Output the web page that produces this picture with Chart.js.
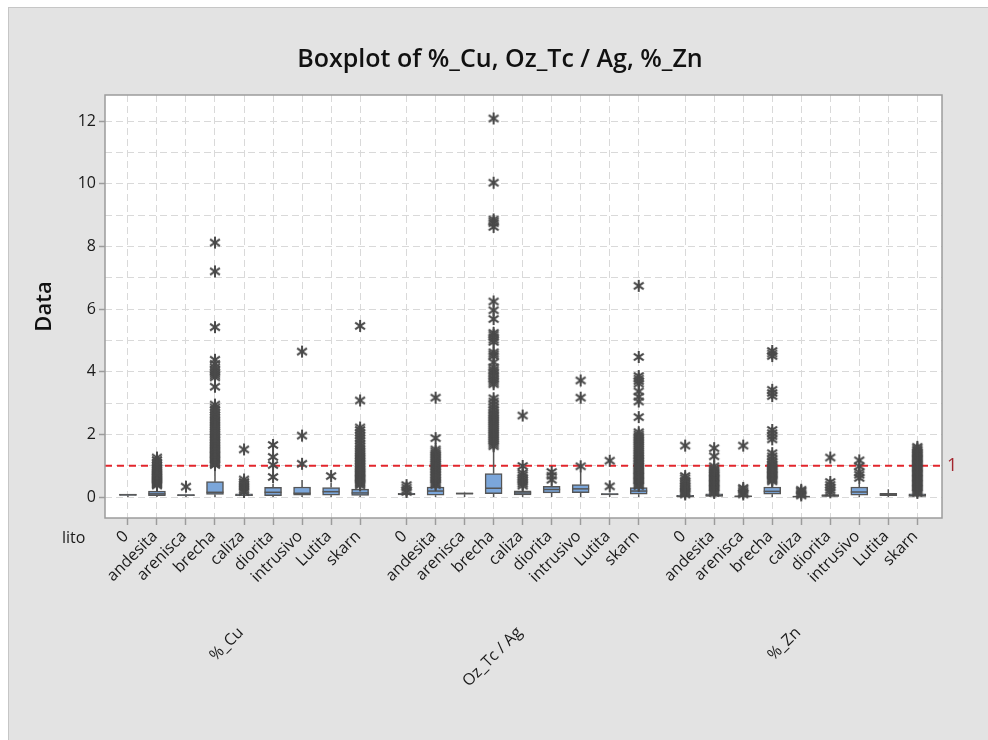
<!DOCTYPE html>
<html>
<head>
<meta charset="utf-8">
<script src="https://cdn.jsdelivr.net/npm/chart.js@4.4.1/dist/chart.umd.min.js"></script>
<style>
  html, body { margin: 0; padding: 0; background: #fff; }
  #panel { position: absolute; left: 8px; top: 7px; width: 980px; height: 733px; background: #e3e3e3;
           border-left: 1px solid #c6c6c6; border-top: 1px solid #c6c6c6; }
  #box { position: absolute; left: 0; top: 0; }
</style>
</head>
<body>
<div id="panel"></div>
<canvas id="box" width="988" height="740"></canvas>
<script>
var lito = ['0', 'andesita', 'arenisca', 'brecha', 'caliza', 'diorita', 'intrusivo', 'Lutita', 'skarn'];
var groups = ['%_Cu', 'Oz_Tc / Ag', '%_Zn'];
var yTicks = [0, 1, 2, 3, 4, 5, 6, 7, 8, 9, 10, 11, 12];
var refLine = 1;

// box stats, one row per group, in lito order
var q1 = [
  0.05, 0.04, 0.04, 0.08, 0.04, 0.04, 0.06, 0.06, 0.05,
  0.07, 0.06, 0.09, 0.11, 0.07, 0.13, 0.14, 0.07, 0.09,
  0.01, 0.02, 0.01, 0.09, 0.00, 0.02, 0.06, 0.04, 0.02
];
var median = [
  0.07, 0.10, 0.06, 0.15, 0.06, 0.15, 0.12, 0.17, 0.13,
  0.09, 0.19, 0.11, 0.28, 0.13, 0.24, 0.26, 0.09, 0.19,
  0.02, 0.05, 0.02, 0.18, 0.01, 0.04, 0.16, 0.08, 0.05
];
var q3 = [
  0.09, 0.19, 0.08, 0.49, 0.10, 0.31, 0.32, 0.30, 0.25,
  0.12, 0.32, 0.13, 0.75, 0.20, 0.34, 0.40, 0.11, 0.30,
  0.05, 0.10, 0.04, 0.32, 0.03, 0.08, 0.32, 0.12, 0.10
];
var whiskerLow = [
  0.00, 0.00, 0.00, 0.00, 0.00, 0.00, 0.00, 0.00, 0.00,
  0.00, 0.00, 0.00, 0.00, 0.00, 0.00, 0.00, 0.00, 0.00,
  0.00, 0.00, 0.00, 0.00, 0.00, 0.00, 0.00, 0.00, 0.00
];
var whiskerHigh = [
  0.09, 0.35, 0.08, 1.00, 0.12, 0.42, 0.54, 0.46, 0.35,
  0.12, 0.36, 0.14, 1.58, 0.30, 0.50, 0.80, 0.12, 0.33,
  0.06, 0.10, 0.05, 0.46, 0.04, 0.12, 0.42, 0.25, 0.10
];

var cuOutliers = [
  [],
  [0.37, 0.40, 0.43, 0.46, 0.49, 0.52, 0.55, 0.58, 0.61, 0.64, 0.67, 0.70, 0.73, 0.76, 0.80, 0.84, 0.88, 0.92, 0.97, 1.03, 1.10, 1.18, 1.26],
  [0.33],
  [1.02, 1.06, 1.10, 1.14, 1.18, 1.22, 1.26, 1.30, 1.34, 1.38, 1.42, 1.46, 1.50, 1.54, 1.58, 1.62, 1.67, 1.72, 1.77, 1.82, 1.87, 1.92, 1.97, 2.02, 2.07, 2.12, 2.18, 2.24, 2.30, 2.36, 2.42, 2.48, 2.55, 2.62, 2.70, 2.78, 2.86, 2.95, 3.52, 3.82, 3.88, 3.94, 4.00, 4.06, 4.14, 4.25, 4.38, 5.42, 7.20, 8.12],
  [0.16, 0.22, 0.28, 0.35, 0.42, 0.48, 0.56, 1.52],
  [0.64, 1.02, 1.28, 1.66],
  [1.06, 1.96, 4.64],
  [0.67],
  [0.37, 0.41, 0.45, 0.49, 0.53, 0.57, 0.61, 0.65, 0.69, 0.73, 0.77, 0.81, 0.85, 0.90, 0.95, 1.00, 1.05, 1.10, 1.15, 1.20, 1.25, 1.30, 1.36, 1.42, 1.48, 1.55, 1.62, 1.70, 1.80, 1.88, 1.96, 2.05, 2.14, 2.22, 3.08, 5.46]
];
var agOutliers = [
  [0.16, 0.22, 0.30, 0.38],
  [0.38, 0.42, 0.46, 0.50, 0.55, 0.60, 0.65, 0.70, 0.75, 0.80, 0.85, 0.90, 0.95, 1.00, 1.05, 1.10, 1.16, 1.22, 1.28, 1.34, 1.40, 1.46, 1.52, 1.88, 3.17],
  [],
  [1.62, 1.68, 1.74, 1.80, 1.86, 1.92, 1.98, 2.04, 2.10, 2.16, 2.22, 2.28, 2.34, 2.40, 2.46, 2.52, 2.58, 2.64, 2.70, 2.78, 2.86, 2.95, 3.05, 3.15, 3.60, 3.66, 3.72, 3.78, 3.86, 3.94, 4.00, 4.06, 4.14, 4.30, 4.50, 4.56, 4.62, 4.95, 5.02, 5.10, 5.18, 5.24, 5.68, 5.96, 6.24, 8.62, 8.74, 8.80, 8.86, 10.03, 12.08],
  [0.36, 0.42, 0.48, 0.55, 0.62, 0.70, 0.77, 0.99, 2.60],
  [0.55, 0.68, 0.80],
  [0.98, 3.17, 3.72],
  [0.34, 1.16],
  [0.35, 0.39, 0.43, 0.47, 0.51, 0.55, 0.59, 0.63, 0.67, 0.71, 0.75, 0.79, 0.83, 0.87, 0.91, 0.95, 1.00, 1.05, 1.10, 1.15, 1.20, 1.25, 1.30, 1.35, 1.40, 1.46, 1.52, 1.58, 1.64, 1.70, 1.76, 1.82, 1.88, 1.94, 2.00, 2.07, 2.55, 3.05, 3.20, 3.37, 3.62, 3.70, 3.78, 3.86, 4.47, 6.74]
];
var znOutliers = [
  [0.08, 0.12, 0.16, 0.20, 0.25, 0.30, 0.35, 0.40, 0.46, 0.52, 0.60, 0.67, 1.64],
  [0.13, 0.17, 0.21, 0.25, 0.29, 0.33, 0.37, 0.41, 0.45, 0.49, 0.53, 0.57, 0.61, 0.65, 0.69, 0.73, 0.77, 0.81, 0.86, 0.91, 0.98, 1.30, 1.56],
  [0.08, 0.13, 0.18, 0.24, 0.29, 1.64],
  [0.50, 0.54, 0.58, 0.62, 0.66, 0.70, 0.74, 0.78, 0.82, 0.86, 0.90, 0.95, 1.00, 1.05, 1.12, 1.20, 1.30, 1.40, 1.84, 1.94, 2.04, 2.14, 3.22, 3.32, 3.42, 4.50, 4.58, 4.66],
  [0.05, 0.09, 0.14, 0.19, 0.23],
  [0.15, 0.22, 0.30, 0.39, 0.48, 1.26],
  [0.61, 0.71, 0.79, 0.98, 1.17],
  [],
  [0.13, 0.17, 0.21, 0.25, 0.29, 0.33, 0.37, 0.41, 0.45, 0.49, 0.53, 0.57, 0.61, 0.65, 0.69, 0.73, 0.77, 0.81, 0.85, 0.89, 0.93, 0.97, 1.01, 1.05, 1.09, 1.13, 1.17, 1.21, 1.25, 1.29, 1.33, 1.37, 1.41, 1.45, 1.50, 1.55, 1.60]
];

// x position of each box: groups are separated by a little extra space
var groupGap = 0.6;
function slot(g, i) { return g * (lito.length + groupGap) + i; }

var slots = [];
groups.forEach(function(name, g) {
  lito.forEach(function(l, i) { slots.push(slot(g, i)); });
});

var boxData = slots.map(function(p, k) { return { x: p, y: [q1[k], q3[k]] }; });

var outlierPoints = [];
[cuOutliers, agOutliers, znOutliers].forEach(function(set, g) {
  set.forEach(function(vals, i) {
    vals.forEach(function(v) { outlierPoints.push({ x: slot(g, i), y: v }); });
  });
});

// minitab style asterisk
function makeStar() {
  var c = document.createElement('canvas');
  c.width = 14; c.height = 14;
  var s = c.getContext('2d');
  s.strokeStyle = '#4a4a4a';
  s.lineWidth = 2;
  s.lineCap = 'butt';
  [90, 35, 145].forEach(function(deg) {
    var r = deg * Math.PI / 180, dx = Math.cos(r) * 6, dy = Math.sin(r) * 6;
    s.beginPath();
    s.moveTo(7 - dx, 7 - dy);
    s.lineTo(7 + dx, 7 + dy);
    s.stroke();
  });
  return c;
}

var boxParts = {
  id: 'boxParts',
  beforeDraw: function(chart) {
    var a = chart.chartArea, ctx = chart.ctx;
    ctx.save();
    ctx.fillStyle = '#ffffff';
    ctx.fillRect(a.left, a.top, a.right - a.left, a.bottom - a.top);
    ctx.restore();
  },
  beforeDatasetsDraw: function(chart) {
    var x = chart.scales.x, y = chart.scales.y, a = chart.chartArea, ctx = chart.ctx;
    ctx.save();
    ctx.strokeStyle = '#e2262c';
    ctx.lineWidth = 2;
    ctx.setLineDash([7, 5]);
    var ry = y.getPixelForValue(refLine);
    ctx.beginPath();
    ctx.moveTo(a.left, ry);
    ctx.lineTo(a.right, ry);
    ctx.stroke();
    ctx.restore();

    ctx.save();
    ctx.strokeStyle = '#555555';
    ctx.lineWidth = 1.5;
    slots.forEach(function(p, k) {
      var px = x.getPixelForValue(p);
      ctx.beginPath();
      ctx.moveTo(px, y.getPixelForValue(whiskerLow[k]));
      ctx.lineTo(px, y.getPixelForValue(q1[k]));
      ctx.moveTo(px, y.getPixelForValue(q3[k]));
      ctx.lineTo(px, y.getPixelForValue(whiskerHigh[k]));
      ctx.stroke();
    });
    ctx.restore();
  },
  afterDatasetDraw: function(chart, args) {
    if (args.meta.type !== 'bar') return;
    var y = chart.scales.y, ctx = chart.ctx;
    ctx.save();
    ctx.strokeStyle = '#555555';
    ctx.lineWidth = 1.5;
    args.meta.data.forEach(function(bar, k) {
      var my = y.getPixelForValue(median[k]);
      ctx.beginPath();
      ctx.moveTo(bar.x - bar.width / 2, my);
      ctx.lineTo(bar.x + bar.width / 2, my);
      ctx.stroke();
    });
    ctx.restore();
  },
  afterDraw: function(chart) {
    var x = chart.scales.x, y = chart.scales.y, a = chart.chartArea, ctx = chart.ctx;
    ctx.save();
    ctx.strokeStyle = '#9c9c9c';
    ctx.lineWidth = 1.5;
    ctx.strokeRect(a.left, a.top, a.right - a.left, a.bottom - a.top);

    // reference value label
    ctx.fillStyle = '#a3272f';
    ctx.font = '18px "Open Sans"';
    ctx.textAlign = 'left';
    ctx.textBaseline = 'middle';
    ctx.fillText(String(refLine), a.right + 5, y.getPixelForValue(refLine));

    ctx.fillStyle = '#111111';
    ctx.font = '600 25px "Open Sans"';
    ctx.textAlign = 'center';
    ctx.textBaseline = 'alphabetic';
    ctx.fillText('Boxplot of %_Cu, Oz_Tc / Ag, %_Zn', 500, 67);

    ctx.fillStyle = '#1a1a1a';
    ctx.font = '16px "Open Sans"';
    ctx.textAlign = 'left';
    ctx.textBaseline = 'middle';
    ctx.fillText('lito', 62, 538);

    // group names under the lito labels
    ctx.textAlign = 'right';
    groups.forEach(function(name, g) {
      var cx = x.getPixelForValue((slot(g, 0) + slot(g, lito.length - 1)) / 2);
      ctx.save();
      ctx.translate(cx - 3, 630);
      ctx.rotate(-Math.PI / 4);
      ctx.fillText(name, 0, 0);
      ctx.restore();
    });
    ctx.restore();
  }
};

new Chart(document.getElementById('box'), {
  type: 'scatter',
  data: {
    datasets: [
      {
        type: 'scatter',
        data: outlierPoints,
        pointStyle: makeStar(),
        pointRadius: 6,
        showLine: false
      },
      {
        type: 'bar',
        data: boxData,
        backgroundColor: '#7ba6da',
        borderColor: '#555555',
        borderWidth: 1.5,
        borderSkipped: false,
        barThickness: 17
      }
    ]
  },
  options: {
    responsive: false,
    animation: false,
    layout: { padding: { left: 0, top: 95, right: 46, bottom: 0 } },
    plugins: { legend: { display: false }, tooltip: { enabled: false } },
    scales: {
      x: {
        type: 'linear',
        offset: false,
        min: -0.79,
        max: 28.05,
        afterBuildTicks: function(scale) {
          scale.ticks = slots.map(function(p) { return { value: p }; });
        },
        afterFit: function(scale) { scale.height = 222; },
        ticks: {
          autoSkip: false,
          minRotation: 45,
          maxRotation: 45,
          padding: 2,
          labelOffset: -2,
          color: '#1a1a1a',
          font: { family: 'Open Sans', size: 16 },
          callback: function(value, index) { return lito[index % lito.length]; }
        },
        grid: { offset: false, color: '#d9d9d9', lineWidth: 1, tickLength: 7, tickColor: '#9c9c9c', tickWidth: 1.5 },
        border: { display: false, dash: [7, 4] }
      },
      y: {
        type: 'linear',
        min: -0.67,
        max: 12.83,
        afterBuildTicks: function(scale) {
          scale.ticks = yTicks.map(function(v) { return { value: v }; });
        },
        afterFit: function(scale) { scale.width = 105; },
        title: {
          display: true,
          text: 'Data',
          color: '#111111',
          font: { family: 'Open Sans', size: 22, weight: '600' },
          padding: { top: 32, bottom: 0 }
        },
        ticks: {
          padding: 3,
          color: '#1a1a1a',
          font: { family: 'Open Sans', size: 16 },
          callback: function(value) { return value % 2 === 0 ? value : ''; }
        },
        grid: {
          color: '#d9d9d9',
          lineWidth: 1,
          tickLength: 6,
          tickWidth: 1.5,
          tickColor: function(ctx) { return ctx.tick && ctx.tick.value % 2 === 0 ? '#9c9c9c' : 'rgba(0,0,0,0)'; }
        },
        border: { display: false, dash: [7, 4] }
      }
    }
  },
  plugins: [boxParts]
});
</script>
</body>
</html>
